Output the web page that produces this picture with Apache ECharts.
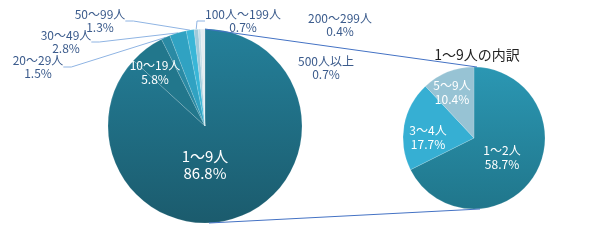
<!DOCTYPE html>
<html><head><meta charset="utf-8">
<script src="https://cdn.jsdelivr.net/npm/echarts@6/dist/echarts.min.js"></script>
<style>html,body{margin:0;padding:0;background:#fff}#c{width:600px;height:247px}</style>
</head><body><div id="c"></div>
<script>
const bigCategories = ['1～9人','10～19人','20～29人','30～49人','50～99人','100人～199人','200～299人','500人以上'];
const bigValues = [86.8, 5.8, 1.5, 2.8, 1.3, 0.7, 0.4, 0.7];
const smallCategories = ['1～2人','3～4人','5～9人'];
const smallValues = [58.7, 17.7, 10.4];
const smallTitle = '1～9人の内訳';

const FONT = '"Noto Sans CJK JP", "Noto Sans", sans-serif';
const bigColors = [
  {type:'linear',x:0,y:0,x2:0,y2:1,colorStops:[{offset:0,color:'#24809a'},{offset:1,color:'#1b5b6d'}]},
  '#22778c','#2a8aa4','#30a2c2','#39b6d7','#9ecadb','#c5dde7','#e4edf1'
];
const smallColors = [
  {type:'linear',x:0,y:0,x2:0,y2:1,colorStops:[{offset:0,color:'#2b97b3'},{offset:1,color:'#20768b'}]},
  '#36afd3','#97c3d4'
];
const bigLabelPos = [[205,165],[155,72],[38,67],[66,42],[100,21],[243,21],[340,25],[326,68]];
const smallLabelPos = [[502,157],[428,137],[452,92]];
const BC=[205,126], BR=97, SC=[474,138], SR=71;

const chart = echarts.init(document.getElementById('c'), null, {renderer:'canvas'});
const outerLabel = {show:true, position:'outside', color:'#3b5b8c', fontSize:12, lineHeight:13, fontFamily:FONT, align:'center', formatter:'{b}\n{c}%'};
const bigData = bigCategories.map((n,i)=>{
  const d = {name:n, value:bigValues[i], itemStyle:{color:bigColors[i]}};
  if (i===0) d.label = {show:true, position:'inside', color:'#fff', fontSize:15, lineHeight:17, fontFamily:FONT, formatter:'{b}\n{c}%'};
  else if (i===1) d.label = {show:true, position:'inside', color:'#fff', fontSize:12, lineHeight:14, fontFamily:FONT, formatter:'{b}\n{c}%'};
  if (i>=6) d.labelLine = {show:false};
  return d;
});
const smallData = smallCategories.map((n,i)=>({name:n, value:smallValues[i], itemStyle:{color:smallColors[i]}}));

chart.setOption({
  animation:false,
  title:{text:smallTitle, left:472, top:43, textAlign:'center', textStyle:{fontSize:14, fontWeight:'normal', color:'#222', fontFamily:FONT}},
  graphic:[
    {type:'line', shape:{x1:BC[0], y1:BC[1]-BR, x2:SC[0]+3, y2:SC[1]-SR}, style:{stroke:'#4472c4', lineWidth:1}, z:10},
    {type:'line', shape:{x1:BC[0]+4, y1:BC[1]+BR, x2:SC[0]+6, y2:SC[1]+SR}, style:{stroke:'#4472c4', lineWidth:1}, z:10}
  ],
  series:[
    {type:'pie', center:BC, radius:BR, startAngle:90, clockwise:true, data:bigData,
     itemStyle:{borderColor:'rgba(255,255,255,0.25)', borderWidth:0.5},
     label:outerLabel,
     labelLine:{show:true, length:8, length2:8, smooth:false, lineStyle:{color:'#8fb4e3', width:1}},
     labelLayout:function(p){const q=bigLabelPos[p.dataIndex]; return {x:q[0], y:q[1], align:'center', verticalAlign:'middle'};}
    },
    {type:'pie', center:SC, radius:SR, startAngle:90, clockwise:true, data:smallData,
     itemStyle:{borderColor:'rgba(255,255,255,0.3)', borderWidth:0.5},
     label:{show:true, position:'inside', color:'#fff', fontSize:12, lineHeight:14, fontFamily:FONT, formatter:'{b}\n{c}%'},
     labelLine:{show:false},
     labelLayout:function(p){const q=smallLabelPos[p.dataIndex]; return {x:q[0], y:q[1], align:'center', verticalAlign:'middle'};}
    }
  ]
});
</script></body></html>
